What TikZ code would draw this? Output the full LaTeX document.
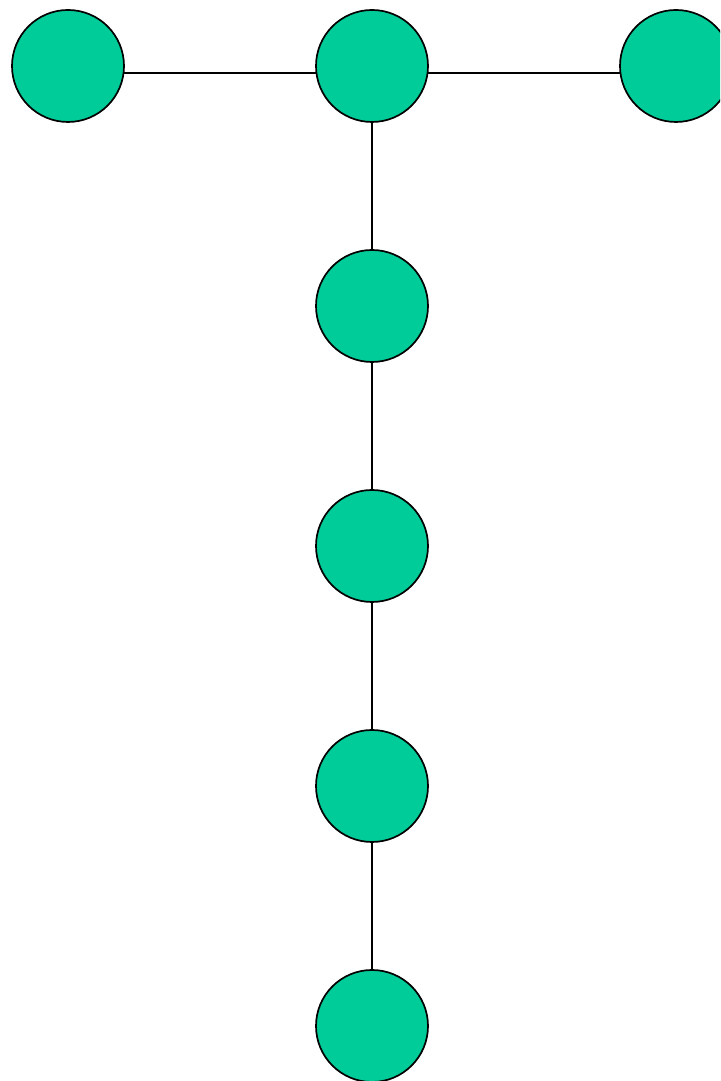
\documentclass[tikz,border=0pt]{standalone}
\usepackage{tikz}
\usepackage{xcolor}
\definecolor{TreeGreen}{HTML}{00CC99}

\begin{document}
\begin{tikzpicture}[x=1pt, y=1pt,
    treenode/.style={circle, draw=black, line width=1.7pt, fill=TreeGreen, minimum size=112pt, inner sep=0pt},
    treeedge/.style={line width=1.7pt, black}]
    \useasboundingbox (0, 0) rectangle (720, 1081);
    \clip (0, 0) rectangle (720, 1081);

    % Top row
    \node[treenode] (left) at (68, 1015) {};
    \node[treenode] (mid) at (372, 1015) {};
    \node[treenode] (right) at (676, 1015) {};

    % Vertical chain
    \node[treenode] (c1) at (372, 775) {};
    \node[treenode] (c2) at (372, 535) {};
    \node[treenode] (c3) at (372, 295) {};
    \node[treenode] (c4) at (372, 55) {};

    % Horizontal connectors
    \draw[treeedge] (left.-7) -- (mid.187);
    \draw[treeedge] (mid.-7) -- (right.187);

    % Vertical connectors
    \draw[treeedge] (mid) -- (c1);
    \draw[treeedge] (c1) -- (c2);
    \draw[treeedge] (c2) -- (c3);
    \draw[treeedge] (c3) -- (c4);
\end{tikzpicture}
\end{document}
